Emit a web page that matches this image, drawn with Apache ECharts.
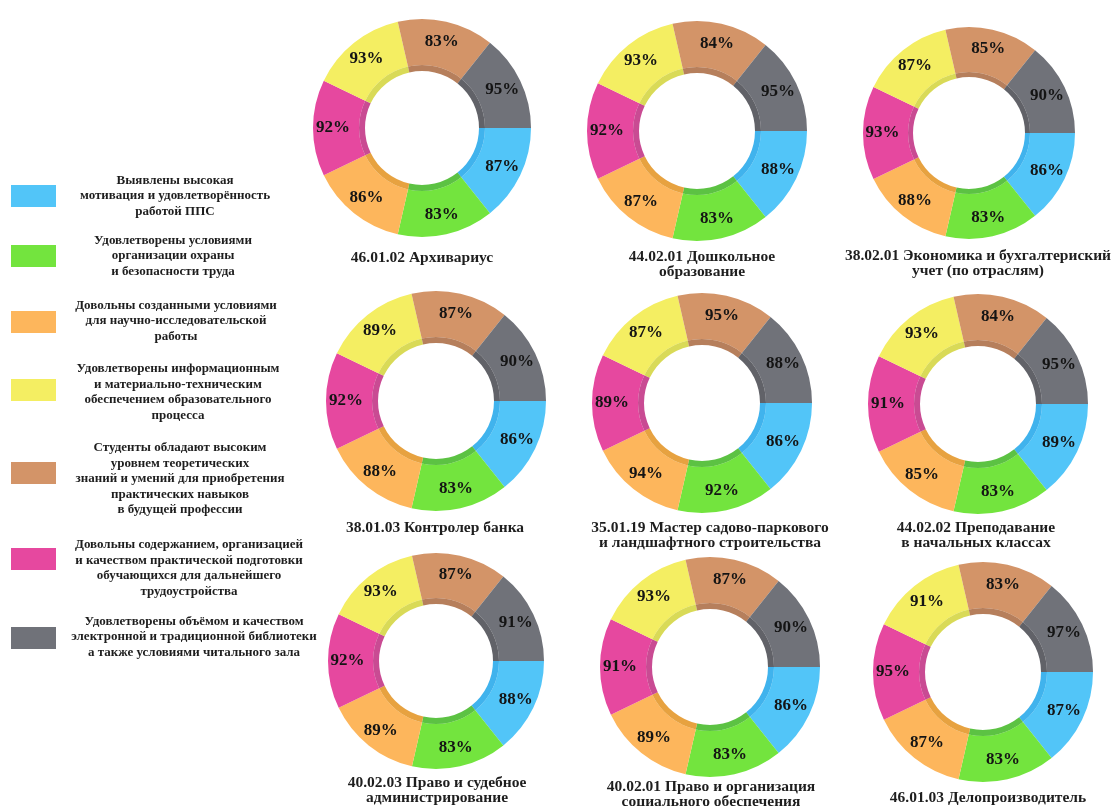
<!DOCTYPE html>
<html>
<head>
<meta charset="utf-8">
<script src="https://cdn.jsdelivr.net/npm/echarts@6/dist/echarts.min.js"></script>
<style>html,body{margin:0;padding:0;background:#fff}#c{width:1118px;height:806px}</style>
</head>
<body>
<div id="c"></div>
<script>
// Legend categories (legend order, top to bottom)
const categories = [
  "Выявлены высокая\nмотивация и удовлетворённость\nработой ППС",
  "Удовлетворены условиями\nорганизации охраны\nи безопасности труда",
  "Довольны созданными условиями\nдля научно-исследовательской\nработы",
  "Удовлетворены информационным\nи материально-техническим\nобеспечением образовательного\nпроцесса",
  "Студенты обладают высоким\nуровнем теоретических\nзнаний и умений для приобретения\nпрактических навыков\nв будущей профессии",
  "Довольны содержанием, организацией\nи качеством практической подготовки\nобучающихся для дальнейшего\nтрудоустройства",
  "Удовлетворены объёмом и качеством\nэлектронной и традиционной библиотеки\nа также условиями читального зала"
];
const colors = ["#52c5f8", "#73e43e", "#fdb65c", "#f4ee62", "#d39468", "#e6489f", "#707279"];
const bandColors = ["#1ea6ea", "#3fb722", "#e3921f", "#d2d43a", "#a9693f", "#c02b80", "#45474d"];
// Order of categories around each ring, clockwise from 3 o'clock
const ringOrder = [0, 1, 2, 5, 3, 4, 6];

// Programme titles
const titles = [
  "46.01.02 Архивариус",
  "44.02.01 Дошкольное\nобразование",
  "38.02.01 Экономика и бухгалтериский\nучет (по отраслям)",
  "38.01.03 Контролер банка",
  "35.01.19 Мастер садово-паркового\nи ландшафтного строительства",
  "44.02.02 Преподавание\nв начальных классах",
  "40.02.03 Право и судебное\nадминистрирование",
  "40.02.01 Право и организация\nсоциального обеспечения",
  "46.01.03 Делопроизводитель"
];
// Percent values per programme, in ring order (blue, green, orange, pink, yellow, brown, gray)
const v1 = [87, 83, 86, 92, 93, 83, 95];
const v2 = [88, 83, 87, 92, 93, 84, 95];
const v3 = [86, 83, 88, 93, 87, 85, 90];
const v4 = [86, 83, 88, 92, 89, 87, 90];
const v5 = [86, 92, 94, 89, 87, 95, 88];
const v6 = [89, 83, 85, 91, 93, 84, 95];
const v7 = [88, 83, 89, 92, 93, 87, 91];
const v8 = [86, 83, 89, 91, 93, 87, 90];
const v9 = [87, 83, 87, 95, 91, 83, 97];
const values = [v1, v2, v3, v4, v5, v6, v7, v8, v9];

// layout
const centers = [[422,128],[697,131],[969,133],[436,401],[702,403],[978,404],[436,661],[710,667],[983,672]];
const radii = [109,110,106,110,110,110,108,110,110];
const titlePos = [[422,258],[702,257],[978,256],[435,528],[710,528],[976,528],[437,783],[711,787],[988,798]];
const legendY = [196,256,322,390,473,559,638];
const legendTextPos = [[175,196],[173,256],[176,321],[178,392],[180,479],[189,568],[194,637]];

const series = [];
values.forEach((vals, k) => {
  const R = radii[k];
  series.push({
    type: 'pie', center: centers[k], radius: [Math.round(R*0.58), R],
    startAngle: 0, clockwise: true, silent: true, animation: false,
    label: { show: true, position: 'inside', color: '#141414', fontFamily: 'Liberation Serif', fontWeight: 'bold', fontSize: 17 },
    labelLine: { show: false },
    data: ringOrder.map((ci, p) => ({ name: categories[ci], value: 1, itemStyle: { color: colors[ci] }, label: { formatter: vals[p] + '%' } }))
  });
  series.push({
    type: 'pie', center: centers[k], radius: [Math.round(R*0.525), Math.round(R*0.58)],
    startAngle: 0, clockwise: true, silent: true, animation: false,
    label: { show: false }, labelLine: { show: false },
    data: ringOrder.map((ci) => ({ name: categories[ci], value: 1, itemStyle: { color: bandColors[ci], opacity: 0.85 } }))
  });
});

const graphic = [];
categories.forEach((c, i) => {
  graphic.push({ type: 'rect', shape: { x: 11, y: legendY[i] - 11, width: 45, height: 22 }, style: { fill: colors[i] }, silent: true });
  graphic.push({ type: 'text', x: legendTextPos[i][0], y: legendTextPos[i][1], silent: true,
    style: { text: c, align: 'center', verticalAlign: 'middle', fontFamily: 'Liberation Serif', fontWeight: 'bold', fontSize: 13, lineHeight: 15.5, fill: '#1e1e1e' } });
});
titles.forEach((t, k) => {
  graphic.push({ type: 'text', x: titlePos[k][0], y: titlePos[k][1] - 8, silent: true,
    style: { text: t, align: 'center', verticalAlign: 'top', fontFamily: 'Liberation Serif', fontWeight: 'bold', fontSize: 15.5, lineHeight: 15.5, fill: '#1e1e1e' } });
});

const chart = echarts.init(document.getElementById('c'));
chart.setOption({ backgroundColor: '#fff', animation: false, series, graphic });
</script>
</body>
</html>
